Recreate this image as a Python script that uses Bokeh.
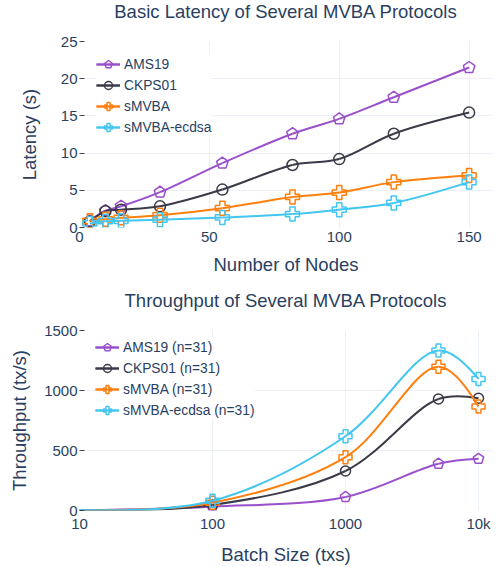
import math
from bokeh.plotting import figure
from bokeh.models import Range1d, FixedTicker, Legend, LegendItem, Title
from bokeh.layouts import column
from bokeh.embed import file_html
from bokeh.resources import INLINE

FONT = "Liberation Sans"
TXT = "#2a3f5f"
GRID = "#ebf0f8"
TICK = "#444444"

# ---------------- data ----------------
names_top = ["AMS19", "CKPS01", "sMVBA", "sMVBA-ecdsa"]
nodes = [4, 10, 16, 31, 55, 82, 100, 121, 150]
lat_ams19 = [0.9, 2.25, 2.85, 4.75, 8.65, 12.6, 14.6, 17.5, 21.5]
lat_ckps01 = [0.8, 2.2, 2.4, 2.85, 5.1, 8.4, 9.2, 12.6, 15.45]
lat_smvba = [0.9, 1.1, 1.3, 1.65, 2.6, 4.1, 4.7, 6.1, 7.0]
lat_ecdsa = [0.55, 0.85, 0.9, 1.05, 1.35, 1.8, 2.4, 3.3, 6.1]

names_bot = ["AMS19 (n=31)", "CKPS01 (n=31)", "sMVBA (n=31)", "sMVBA-ecdsa (n=31)"]
batch = [10, 100, 1000, 5000, 10000]
tp_ams19 = [2, 32, 113, 390, 431]
tp_ckps01 = [3, 46, 329, 929, 935]
tp_smvba = [4, 65, 444, 1198, 867]
tp_ecdsa = [5, 81, 619, 1333, 1096]

x_ticks_top = [0, 50, 100, 150]
y_ticks_top = [0, 5, 10, 15, 20, 25]
x_ticks_bot = [10, 100, 1000, 10000]
x_labels_bot = {10: "10", 100: "100", 1000: "1000", 10000: "10k"}
y_ticks_bot = [0, 500, 1000, 1500]

colors = ["#9a50cc", "#3b3b48", "#ff7f0e", "#42c6f0"]
markers = ["pentagon", "circle", "plus", "plus"]


# -------- plotly-like spline (smoothing=1) computed in pixel space --------
def spline_segments(xs, ys, to_px, from_px, s=1.0):
    pts = [to_px(x, y) for x, y in zip(xs, ys)]
    n = len(pts)
    tang = []
    for i in range(1, n - 1):
        p0, p1, p2 = pts[i - 1], pts[i], pts[i + 1]
        d1x, d1y = p0[0] - p1[0], p0[1] - p1[1]
        d2x, d2y = p2[0] - p1[0], p2[1] - p1[1]
        d1a = (d1x * d1x + d1y * d1y) ** 0.25
        d2a = (d2x * d2x + d2y * d2y) ** 0.25
        numx = (d2a * d2a * d1x - d1a * d1a * d2x) * s
        numy = (d2a * d2a * d1y - d1a * d1a * d2y) * s
        den1 = 3 * d2a * (d1a + d2a)
        den2 = 3 * d1a * (d1a + d2a)
        tang.append(((p1[0] + numx / den1, p1[1] + numy / den1),
                     (p1[0] - numx / den2, p1[1] - numy / den2)))
    q = dict(x0=[], y0=[], x1=[], y1=[], cx=[], cy=[])
    for (a, b, c) in [(pts[0], pts[1], tang[0][0]), (pts[-2], pts[-1], tang[-1][1])]:
        A, B, C = from_px(*a), from_px(*b), from_px(*c)
        q["x0"].append(A[0]); q["y0"].append(A[1])
        q["x1"].append(B[0]); q["y1"].append(B[1])
        q["cx"].append(C[0]); q["cy"].append(C[1])
    cb = dict(x0=[], y0=[], x1=[], y1=[], cx0=[], cy0=[], cx1=[], cy1=[])
    for i in range(2, n - 1):
        A, B = from_px(*pts[i - 1]), from_px(*pts[i])
        C0, C1 = from_px(*tang[i - 2][1]), from_px(*tang[i - 1][0])
        cb["x0"].append(A[0]); cb["y0"].append(A[1])
        cb["x1"].append(B[0]); cb["y1"].append(B[1])
        cb["cx0"].append(C0[0]); cb["cy0"].append(C0[1])
        cb["cx1"].append(C1[0]); cb["cy1"].append(C1[1])
    return q, cb


def draw_series(p, xs, ys, color, marker, to_px, from_px, msize, mstart=0):
    q, cb = spline_segments(xs, ys, to_px, from_px)
    rc = p.bezier(line_color=color, line_width=2, **cb)
    rq = p.quadratic(line_color=color, line_width=2, **q)
    mx, my = xs[mstart:], ys[mstart:]
    if marker == "pentagon":
        try:
            rm = p.ngon(x=mx, y=my, radius=msize * 0.55, radius_units="screen", n=5,
                        fill_alpha=0, line_color=color, line_width=1.5)
        except Exception:
            rm = p.scatter(mx, my, marker="hex", size=msize, fill_alpha=0,
                           line_color=color, line_width=1.5)
    elif marker == "plus":
        rm = p.scatter(mx, my, marker="plus", size=msize + 3, fill_alpha=0,
                       line_color=color, line_width=1.5)
    else:
        rm = p.scatter(mx, my, marker="circle", size=msize, fill_alpha=0,
                       line_color=color, line_width=1.5)
    return [rc, rq, rm]


def style(p):
    p.outline_line_color = None
    p.background_fill_color = "white"
    p.border_fill_color = "white"
    for ax in p.xaxis + p.yaxis:
        ax.axis_line_color = None
        ax.major_label_text_font = FONT
        ax.major_label_text_font_size = "15px"
        ax.major_label_text_color = TXT
        ax.axis_label_text_font = FONT
        ax.axis_label_text_font_size = "18.5px"
        ax.axis_label_text_font_style = "normal"
        ax.axis_label_text_color = TXT
        ax.minor_tick_line_color = None
    for ax in p.xaxis:
        ax.major_tick_in = 0
        ax.major_tick_out = 0
        ax.major_label_standoff = 4
        ax.axis_label_standoff = 9
    for ax in p.yaxis:
        ax.major_tick_in = 5
        ax.major_tick_out = 0
        ax.major_tick_line_color = TICK
        ax.major_label_standoff = 2
    p.xgrid.grid_line_color = GRID
    p.ygrid.grid_line_color = GRID


def add_title(p, text):
    # spacer between frame and title, then the title itself (stacked outward)
    p.add_layout(Title(text=" ", text_font_size="10px", standoff=4), "above")
    p.add_layout(Title(text=text, align="center", vertical_align="top", standoff=1,
                       text_font=FONT, text_font_size="18.5px", text_font_style="normal",
                       text_color=TXT), "above")


def make_legend(items, loc):
    lg = Legend(items=items, location=loc)
    lg.margin = 0
    lg.padding = 5
    lg.spacing = 1
    lg.glyph_width = 24
    lg.glyph_height = 20
    lg.label_height = 20
    lg.label_standoff = 4
    lg.label_text_font = FONT
    lg.label_text_font_size = "13.8px"
    lg.label_text_color = TXT
    lg.border_line_color = None
    lg.background_fill_color = "white"
    lg.background_fill_alpha = 1.0
    return lg


W = 497

# ---------------- top chart ----------------
FW1, FH1 = 420, 186
X1MAX = 159.0
p1 = figure(width=W, height=282, x_range=Range1d(0, X1MAX), y_range=Range1d(0, 25),
            title=None, output_backend="svg", toolbar_location=None,
            min_border_left=72, min_border_right=5, min_border_top=41, min_border_bottom=55)
p1.xaxis.axis_label = "Number of Nodes"
p1.yaxis.axis_label = "Latency (s)"
p1.xaxis.ticker = FixedTicker(ticks=x_ticks_top)
p1.yaxis.ticker = FixedTicker(ticks=y_ticks_top)
style(p1)
p1.yaxis.axis_label_standoff = 18
add_title(p1, "Basic Latency of Several MVBA Protocols")

sx1 = FW1 / X1MAX
sy1 = FH1 / 25.0
to1 = lambda x, y: (x * sx1, y * sy1)
from1 = lambda X, Y: (X / sx1, Y / sy1)

items1 = []
for name, ys, c, m in zip(names_top, [lat_ams19, lat_ckps01, lat_smvba, lat_ecdsa], colors, markers):
    rs = draw_series(p1, nodes, ys, c, m, to1, from1, 11)
    items1.append(LegendItem(label=name, renderers=rs))
p1.add_layout(make_legend(items1, (17, 90)))

# ---------------- bottom chart ----------------
FW2, FH2 = 413, 186
DEC = 133.0
X2MAX = 10 ** (1 + FW2 / DEC)
p2 = figure(width=W, height=285, x_axis_type="log", x_range=Range1d(10, X2MAX),
            y_range=Range1d(0, 1500),
            title=None, output_backend="svg", toolbar_location=None,
            min_border_left=79, min_border_right=5, min_border_top=48, min_border_bottom=51)
p2.xaxis.axis_label = "Batch Size (txs)"
p2.yaxis.axis_label = "Throughput (tx/s)"
p2.xaxis.ticker = FixedTicker(ticks=x_ticks_bot)
p2.xaxis.major_label_overrides = x_labels_bot
p2.yaxis.ticker = FixedTicker(ticks=y_ticks_bot)
style(p2)
p2.yaxis.axis_label_standoff = 11
add_title(p2, "Throughput of Several MVBA Protocols")

sy2 = FH2 / 1500.0
to2 = lambda x, y: ((math.log10(x) - 1) * DEC, y * sy2)
from2 = lambda X, Y: (10 ** (1 + X / DEC), Y / sy2)

items2 = []
for name, ys, c, m in zip(names_bot, [tp_ams19, tp_ckps01, tp_smvba, tp_ecdsa], colors, markers):
    rs = draw_series(p2, batch, ys, c, m, to2, from2, 10, mstart=1)
    items2.append(LegendItem(label=name, renderers=rs))
p2.add_layout(make_legend(items2, (16, 90)))

layout = column(p1, p2, spacing=0)
open("out.html", "w").write(file_html(layout, INLINE))
